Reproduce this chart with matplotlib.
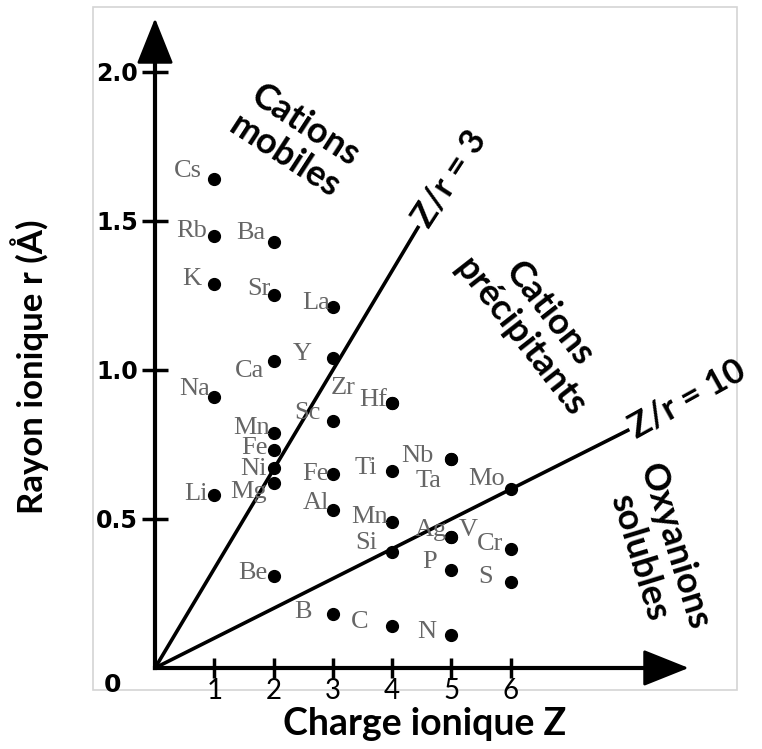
import numpy as np
import matplotlib.pyplot as plt
from matplotlib.patches import Rectangle

# ions: symbol, charge Z, ionic radius r (Angstrom)
symbols = ['Cs', 'Rb', 'K', 'Na', 'Li',
           'Ba', 'Sr', 'Ca', 'Mn', 'Fe', 'Ni', 'Mg', 'Be',
           'La', 'Y', 'Sc', 'Fe', 'Al', 'B',
           'Zr', 'Hf', 'Ti', 'Mn', 'Si', 'C',
           'Nb', 'Ta', 'Ag', 'V', 'P', 'N',
           'Mo', 'Cr', 'S']
charge = [1, 1, 1, 1, 1,
          2, 2, 2, 2, 2, 2, 2, 2,
          3, 3, 3, 3, 3, 3,
          4, 4, 4, 4, 4, 4,
          5, 5, 5, 5, 5, 5,
          6, 6, 6]
radius = [1.64, 1.45, 1.29, 0.91, 0.58,
          1.43, 1.25, 1.03, 0.79, 0.73, 0.67, 0.62, 0.31,
          1.21, 1.04, 0.83, 0.65, 0.53, 0.18,
          0.89, 0.89, 0.66, 0.49, 0.39, 0.14,
          0.70, 0.70, 0.44, 0.44, 0.33, 0.11,
          0.60, 0.40, 0.29]

# Z/r boundaries and where each drawn line stops (in Z)
zr_ratios = [3, 10]
zr_line_end = [4.45, 8.0]

yticks = [0.5, 1.0, 1.5, 2.0]
xticks = [1, 2, 3, 4, 5, 6]

# label offsets in pixels (dx, dy), right-aligned unless noted
label_off = [(-12, 8), (-7, 5), (-13, 5), (-4, 8), (-7, 1),
             (-8, 9), (-3, 6), (-9, -10), (-4, 5), (-6, 2), (-7, -1), (-7, -9), (-6, 3),
             (-3, 4), (-21, 4), (-12, 8), (-4, 0), (-4, 7), (-21, 2),
             (-37, 15), (-5, 3), (-15, 3), (-4, 5), (-15, 9), (-24, 4),
             (-18, 3), (-10, -22), (-5, 7), (7, 7), (-15, 8), (-15, 3),
             (-6, 10), (-8, 5), (-18, 5)]
left_aligned = {'V'}

W, H = 762, 749
fig = plt.figure(figsize=(W / 100, H / 100), dpi=100)
ax = fig.add_axes([93 / W, 1 - 690 / H, 644 / W, 683 / H])
ax.set_xlim(-1.046, 9.815)
ax.set_ylim(-0.074, 2.218)

# light frame around the plot area
ax.add_patch(Rectangle((0, 0), 1, 1, transform=ax.transAxes, fill=False,
                       ec='#d4d4d4', lw=1.2, clip_on=False))

for s in ['top', 'right']:
    ax.spines[s].set_visible(False)
ax.spines['left'].set_position(('data', 0))
ax.spines['bottom'].set_position(('data', 0))
ax.spines['left'].set_bounds(0, 2.05)
ax.spines['bottom'].set_bounds(0, 8.6)
for s in ['left', 'bottom']:
    ax.spines[s].set_linewidth(3)

arrow = dict(arrowstyle='-|>,head_length=1.0,head_width=0.4', color='black',
             lw=2, mutation_scale=29, shrinkA=0, shrinkB=0)
ax.annotate('', xy=(0, 2.18), xytext=(0, 2.0), arrowprops=arrow)
ax.annotate('', xy=(9.0, 0), xytext=(8.5, 0), arrowprops=arrow)

ax.set_yticks(yticks)
ax.set_yticklabels(['%.1f' % v for v in yticks], fontweight='bold',
                   family='DejaVu Sans', fontsize=17)
ax.set_xticks(xticks)
ax.set_xticklabels([str(v) for v in xticks], family='Lato', fontsize=20)
ax.tick_params(axis='y', direction='inout', length=19, width=2.5, pad=3)
ax.tick_params(axis='x', direction='inout', length=14, width=2.5, pad=0)
ax.text(-0.725, -0.057, '0', ha='center', va='center', fontsize=18,
        fontweight='bold', family='DejaVu Sans')

# Z/r lines
for ratio, zend in zip(zr_ratios, zr_line_end):
    zz = np.array([0, zend])
    ax.plot(zz, zz / ratio, color='black', lw=2.6, solid_capstyle='butt')

ax.text(4.47, 1.49, 'Z/r = 3', rotation=57, rotation_mode='anchor',
        ha='left', va='center', fontsize=25, fontweight='bold', family='Lato')
ax.text(8.03, 0.80, 'Z/r = 10', rotation=29, rotation_mode='anchor',
        ha='left', va='center', fontsize=25, fontweight='bold', family='Lato')

# ions
ax.plot(charge, radius, 'o', color='black', ms=8.5, ls='none', zorder=3)
for sym, z, r, (dx, dy) in zip(symbols, charge, radius, label_off):
    ax.annotate(sym, (z, r), xytext=(dx, dy), textcoords='offset pixels',
                ha='left' if sym in left_aligned else 'right', va='center',
                family='Liberation Serif', fontsize=19, color='#666666')

# domain names
region_font = dict(ha='center', va='center', fontsize=26, fontweight='bold',
                   family='Lato', linespacing=1.15, rotation_mode='anchor')
ax.text(2.36, 1.77, 'Cations\nmobiles', rotation=-33, **region_font)
ax.text(6.41, 1.15, 'Cations\nprécipitants', rotation=-52, **region_font)
ax.text(8.47, 0.39, 'Oxyanions\nsolubles', rotation=-73, **region_font)

fig.text(425 / W, 1 - 724 / H, 'Charge ionique Z', ha='center', va='center',
         fontsize=27, fontweight='bold', family='Lato')
fig.text(30 / W, 1 - 367 / H, 'Rayon ionique r (Å)', ha='center', va='center',
         rotation=90, fontsize=25, fontweight='bold', family='Lato')

fig.savefig('out.png', dpi=100)
